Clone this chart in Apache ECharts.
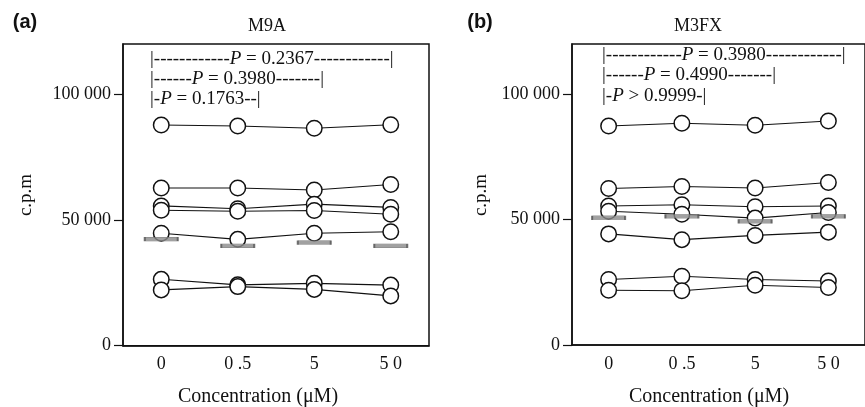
<!DOCTYPE html>
<html>
<head>
<meta charset="utf-8">
<script src="https://cdn.jsdelivr.net/npm/echarts@6/dist/echarts.min.js"></script>
<style>html,body{margin:0;padding:0;background:#fff}#c{width:865px;height:407px}</style>
</head>
<body>
<div id="c"></div>
<script>
// ---- data ----
var categories = ['0', '0 .5', '5', '5 0'];
var yTicks = [0, 50000, 100000];

// Panel (a) M9A
var a1 = [87800, 87400, 86500, 87900];
var a2 = [62700, 62700, 61900, 64100];
var a3 = [55600, 54500, 56300, 55000];
var a4 = [53900, 53500, 53800, 52300];
var a5 = [44700, 42300, 44700, 45300];
var a6 = [26400, 24200, 24800, 24100];
var a7 = [22200, 23500, 22400, 19800];
var aMean = [42400, 39700, 41000, 39700];

// Panel (b) M3FX
var b1 = [87300, 88400, 87600, 89300];
var b2 = [62400, 63200, 62600, 64800];
var b3 = [55400, 55900, 55100, 55400];
var b4 = [53300, 52100, 50600, 52800];
var b5 = [44300, 42000, 43700, 45000];
var b6 = [26100, 27400, 26100, 25500];
var b7 = [21800, 21600, 23800, 22900];
var bMean = [50700, 51300, 49300, 51300];

var SERIF = '"Liberation Serif", "Times New Roman", serif';
var INK = '#111';

function lineSeries(data, idx) {
  return {
    type: 'line', xAxisIndex: idx, yAxisIndex: idx, data: data,
    symbol: 'circle', symbolSize: 15.5, showAllSymbol: true,
    lineStyle: { color: INK, width: 1.1 },
    itemStyle: { color: '#fff', borderColor: INK, borderWidth: 1.5 },
    emphasis: { disabled: true }, z: 3, animation: false
  };
}
function meanSeries(data, idx) {
  return {
    type: 'scatter', xAxisIndex: idx, yAxisIndex: idx, data: data,
    symbol: 'rect', symbolSize: [33, 4],
    itemStyle: { color: '#8a8a8a', borderColor: '#505050', borderWidth: 0.7 },
    z: 4, animation: false
  };
}
function xAxis(idx) {
  return {
    type: 'category', gridIndex: idx, data: categories, boundaryGap: true,
    axisLine: { lineStyle: { color: INK, width: 1.5 } },
    axisTick: { alignWithLabel: true, length: 7, lineStyle: { color: INK, width: 1.3 } },
    axisLabel: { fontFamily: SERIF, fontSize: 18, color: INK, margin: 10 },
    splitLine: { show: false }
  };
}
function yAxis(idx) {
  return {
    type: 'value', gridIndex: idx, min: 0, max: 120000,
    axisLine: { show: true, lineStyle: { color: INK, width: 1.5 } },
    axisTick: { show: true, length: 9, customValues: yTicks, lineStyle: { color: INK, width: 1.2 } },
    axisLabel: {
      customValues: yTicks, fontFamily: SERIF, fontSize: 18, color: INK, margin: 12,
      formatter: function (v) { return v === 0 ? '0' : (v / 1000) + ' 000'; }
    },
    splitLine: { show: false }
  };
}

function dashes(n) { return new Array(n + 1).join('-'); }
function pText(x, y, left, right, label, op) {
  return {
    type: 'text', x: x, y: y, silent: true,
    style: {
      text: '|{d|' + dashes(left) + '}{i|P}{n| ' + op + ' ' + label + '}{d|' + dashes(right) + '}|',
      font: '19px ' + SERIF, fill: INK, verticalAlign: 'middle', align: 'left',
      rich: {
        d: { font: '19px ' + SERIF, fill: INK },
        i: { font: 'italic 19px ' + SERIF, fill: INK },
        n: { font: '19px ' + SERIF, fill: INK }
      }
    }
  };
}
function plainText(x, y, text, font, rot) {
  return {
    type: 'text', x: x, y: y, rotation: rot || 0, silent: true,
    style: { text: text, font: font, fill: INK, align: 'center', verticalAlign: 'middle' }
  };
}

var chart = echarts.init(document.getElementById('c'), null, { renderer: 'canvas' });
chart.setOption({
  animation: false,
  backgroundColor: '#fff',
  grid: [
    { left: 123, top: 44, width: 306, height: 301.7, show: true, borderColor: INK, borderWidth: 1.5, containLabel: false },
    { left: 572, top: 44, width: 302, height: 301, show: true, borderColor: INK, borderWidth: 1.5, containLabel: false }
  ],
  xAxis: [xAxis(0), xAxis(1)],
  yAxis: [yAxis(0), yAxis(1)],
  series: [
    lineSeries(a1, 0), lineSeries(a2, 0), lineSeries(a3, 0), lineSeries(a4, 0),
    lineSeries(a5, 0), lineSeries(a6, 0), lineSeries(a7, 0), meanSeries(aMean, 0),
    lineSeries(b1, 1), lineSeries(b2, 1), lineSeries(b3, 1), lineSeries(b4, 1),
    lineSeries(b5, 1), lineSeries(b6, 1), lineSeries(b7, 1), meanSeries(bMean, 1)
  ],
  graphic: [
    plainText(25, 22, '(a)', 'bold 20px "Liberation Sans", Arial, sans-serif'),
    plainText(480, 22, '(b)', 'bold 20px "Liberation Sans", Arial, sans-serif'),
    plainText(267, 26, 'M9A', '18px ' + SERIF),
    plainText(698, 26, 'M3FX', '18px ' + SERIF),
    plainText(26, 195, 'c.p.m', '19px ' + SERIF, Math.PI / 2),
    plainText(481, 195, 'c.p.m', '19px ' + SERIF, Math.PI / 2),
    plainText(258, 397, 'Concentration (\u03bcM)', '20px ' + SERIF),
    plainText(709, 397, 'Concentration (\u03bcM)', '20px ' + SERIF),
    pText(150, 59, 12, 12, '0.2367', '='),
    pText(150, 79, 6, 7, '0.3980', '='),
    pText(150, 99, 1, 2, '0.1763', '='),
    pText(602, 55, 12, 12, '0.3980', '='),
    pText(602, 75, 6, 7, '0.4990', '='),
    pText(602, 96, 1, 1, '0.9999', '>')
  ]
});
</script>
</body>
</html>
